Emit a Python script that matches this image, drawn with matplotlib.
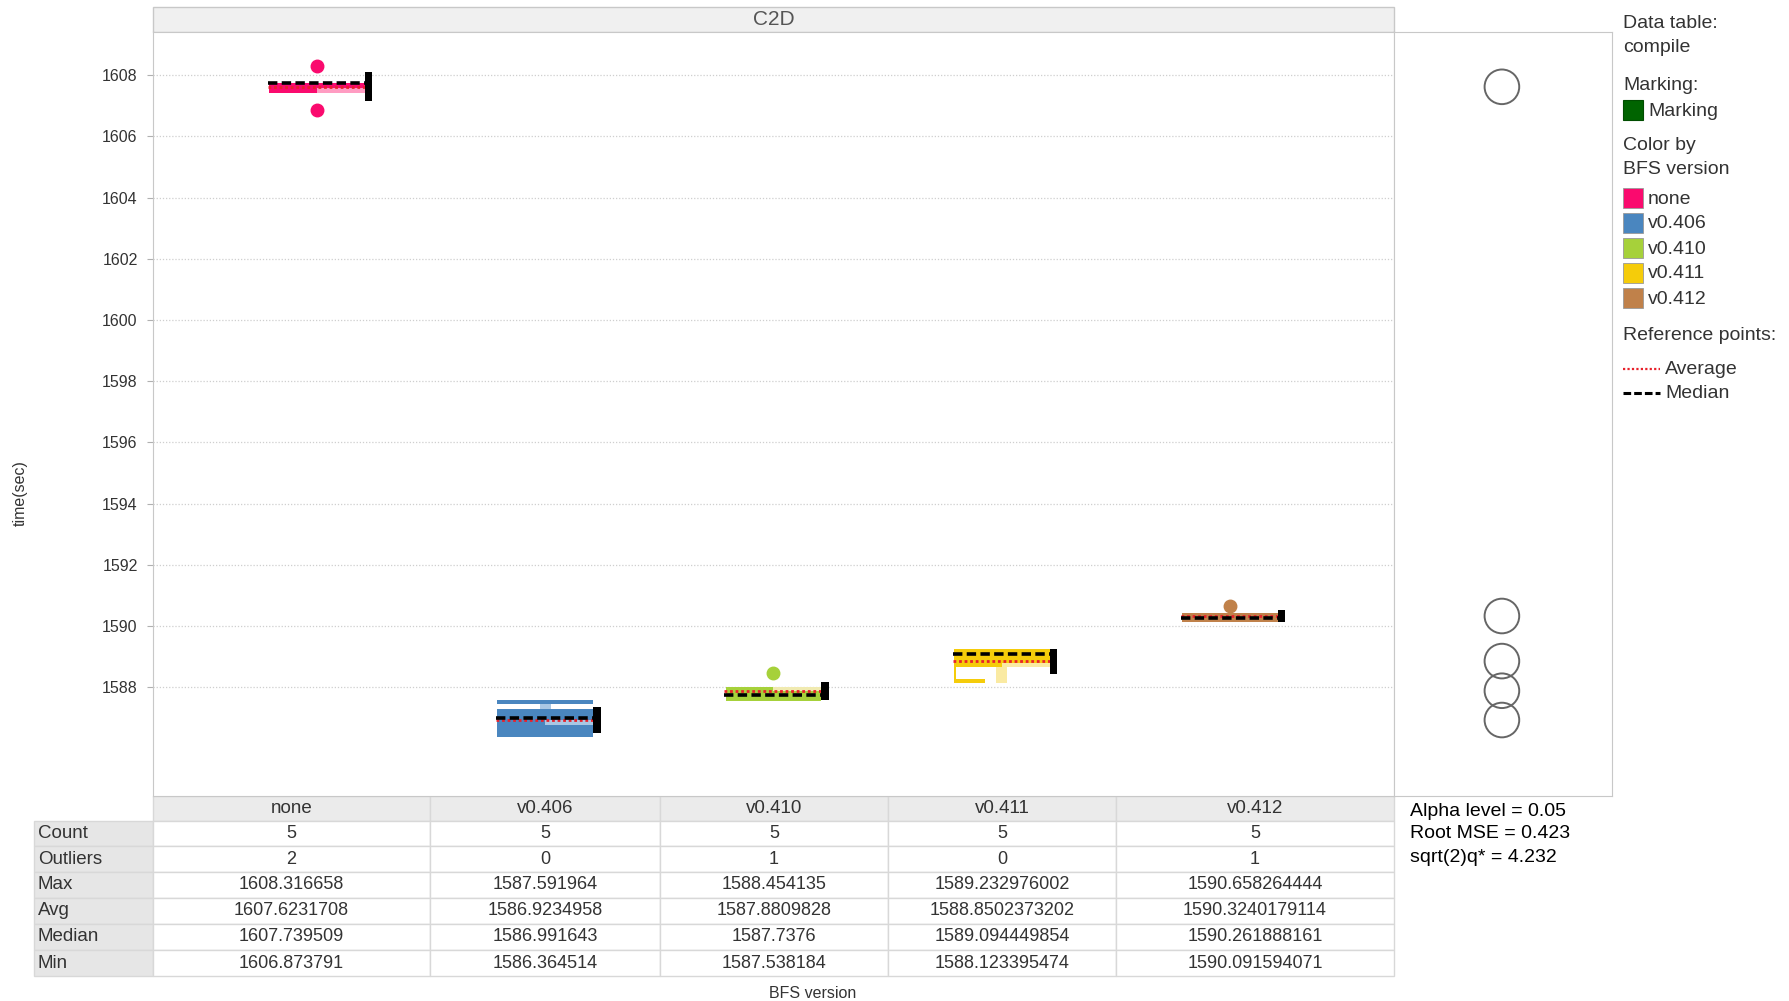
import matplotlib
matplotlib.use("Agg")
import matplotlib.pyplot as plt
from matplotlib.patches import Rectangle, Ellipse
import numpy as np

plt.rcParams['font.family'] = ['Liberation Sans', 'DejaVu Sans']

versions = ['none', 'v0.406', 'v0.410', 'v0.411', 'v0.412']
counts = [5, 5, 5, 5, 5]
outlier_counts = [2, 0, 1, 0, 1]
maxs = [1608.316658, 1587.591964, 1588.454135, 1589.232976002, 1590.658264444]
avgs = [1607.6231708, 1586.9234958, 1587.8809828, 1588.8502373202, 1590.3240179114]
medians = [1607.739509, 1586.991643, 1587.7376, 1589.094449854, 1590.261888161]
mins = [1606.873791, 1586.364514, 1587.538184, 1588.123395474, 1590.091594071]

q1 = [1607.42, 1586.36, 1587.56, 1588.66, 1590.12]
q3 = [1607.75, 1587.28, 1588.00, 1589.26, 1590.41]
light_lo = [1607.43, 1586.76, 1587.87, 1588.66, 1590.12]
light_hi = [1607.60, 1586.91, 1588.00, 1588.78, 1590.12]
whisk_lo = [1607.42, 1586.36, 1587.538184, 1588.123395474, 1590.091594071]
whisk_hi = [1607.75, 1587.591964, 1588.00, 1589.26, 1590.41]
ci_half = [0.47, 0.41, 0.295, 0.41, 0.18]
outliers = [[1608.316658, 1606.873791], [], [1588.454135], [], [1590.658264444]]

alpha_level = 0.05
root_mse = 0.423
sqrt2q = 4.232

yticks = [1588, 1590, 1592, 1594, 1596, 1598, 1600, 1602, 1604, 1606, 1608]
row_names = ['Count', 'Outliers', 'Max', 'Avg', 'Median', 'Min']

colors = ['#fa0a6e', '#4a86bf', '#a6d13a', '#f5cc0a', '#c0814a']
lights = ['#ff9cc2', '#a9c7e4', '#f0eab0', '#faeaa2', '#e2c0a0']

#------------- layout in pixels
W, H = 1790, 1001
fig = plt.figure(figsize=(W / 100, H / 100), dpi=100, facecolor='white')

def rect(x0, y0, x1, y1):
    return [x0 / W, 1 - y1 / H, (x1 - x0) / W, (y1 - y0) / H]

PL, PR, PT, PB = 153, 1394, 32, 796
ax = fig.add_axes(rect(PL, PT, PR, PB))
axc = fig.add_axes(rect(PR, PT, 1612, PB))
ov = fig.add_axes([0, 0, 1, 1], zorder=-1)
ov.set_xlim(0, W)
ov.set_ylim(H, 0)
ov.axis('off')

ylo, yhi = 1584.44, 1609.415
grey = '#c8c8c8'
txt = '#333333'

#------------- box plot
ax.set_xlim(-0.72, 4.72)
ax.set_ylim(ylo, yhi)
for yt in yticks:
    ax.axhline(yt, color='#cfcfcf', lw=0.9, ls=(0, (1, 1.5)), zorder=0)
hw = 0.21
for i in range(len(versions)):
    c, lc = colors[i], lights[i]
    if whisk_hi[i] - q3[i] > 0.05:
        ax.add_patch(Rectangle((i - 0.025, q3[i]), 0.05, whisk_hi[i] - q3[i], color=lc, lw=0, zorder=2))
        ax.add_patch(Rectangle((i - hw, whisk_hi[i] - 0.15), 2 * hw, 0.15, color=c, lw=0, zorder=2))
    if q1[i] - whisk_lo[i] > 0.05:
        ax.add_patch(Rectangle((i - 0.025, whisk_lo[i]), 0.05, q1[i] - whisk_lo[i], color=lc, lw=0, zorder=2))
        ax.add_patch(Rectangle((i - hw, whisk_lo[i]), 0.65 * hw, 0.15, color=c, lw=0, zorder=2))
        ax.add_patch(Rectangle((i - hw, whisk_lo[i]), 0.012, q1[i] - whisk_lo[i], color=c, lw=0, zorder=2))
    ax.add_patch(Rectangle((i - hw, q1[i]), 2 * hw, q3[i] - q1[i], color=c, lw=0, zorder=2))
    ax.add_patch(Rectangle((i, light_lo[i]), hw, light_hi[i] - light_lo[i], color=lc, lw=0, zorder=3))
    ax.plot([i - hw - 0.005, i + hw], [avgs[i], avgs[i]], color='#e8212b', lw=2, ls=(0, (1, 1)), zorder=4)
    ax.plot([i - hw - 0.005, i + hw], [medians[i], medians[i]], color='black', lw=2.6, ls=(0, (2.6, 1.2)), zorder=5)
    ax.add_patch(Rectangle((i + hw, avgs[i] - ci_half[i]), 0.032, 2 * ci_half[i], color='black', lw=0, zorder=6))
    if outliers[i]:
        ax.plot([i] * len(outliers[i]), outliers[i], 'o', ms=9, color=c, mec=c, zorder=6)

ax.set_yticks(yticks)
ax.set_yticklabels([str(t) for t in yticks])
ax.set_xticks([])
ax.tick_params(axis='y', length=4, color='#b0b0b0', labelsize=11.5, labelcolor=txt, pad=7)
for s in ax.spines.values():
    s.set_color(grey)

#------------- comparison circles
axc.set_xlim(0, 1)
axc.set_ylim(ylo, yhi)
axc.set_xticks([])
axc.set_yticks([])
for s in axc.spines.values():
    s.set_color(grey)
px_per_unit = (PB - PT) / (yhi - ylo)
for i in range(len(versions)):
    r = sqrt2q * root_mse / np.sqrt(counts[i]) / np.sqrt(2)
    wdt = 2 * r * px_per_unit / (1612 - PR)
    axc.add_patch(Ellipse((0.495, avgs[i]), wdt, 2 * r, fill=False, ec='#666666', lw=1.4))

#------------- title band
ov.add_patch(Rectangle((PL, 7), PR - PL, PT - 7, fc='#f0f0f0', ec=grey, lw=1))
ov.text((PL + PR) / 2, 19.5, 'C2D', ha='center', va='center', fontsize=15, color='#555555')
ov.text(20, 493, 'time(sec)', rotation=90, ha='center', va='center', fontsize=11.5, color=txt)

#------------- table
col_edges = [153, 430, 660, 888, 1116, 1394]
row_edges = [796, 821, 846, 872, 897.5, 923.5, 950, 976]
cell_ec = '#d8d8d8'
for j in range(len(versions)):
    x0, x1 = col_edges[j], col_edges[j + 1]
    ov.add_patch(Rectangle((x0, row_edges[0]), x1 - x0, row_edges[1] - row_edges[0], fc='#ebebeb', ec=cell_ec, lw=1))
    ov.text((x0 + x1) / 2, (row_edges[0] + row_edges[1]) / 2, versions[j], ha='center', va='center', fontsize=13.5, color=txt)
table_rows = [counts, outlier_counts, maxs, avgs, medians, mins]
for k, name in enumerate(row_names):
    y0, y1 = row_edges[k + 1], row_edges[k + 2]
    ov.add_patch(Rectangle((34, y0), 153 - 34, y1 - y0, fc='#e6e6e6', ec=cell_ec, lw=1))
    ov.text(38, (y0 + y1) / 2, name, ha='left', va='center', fontsize=13.5, color=txt)
    for j in range(len(versions)):
        x0, x1 = col_edges[j], col_edges[j + 1]
        ov.add_patch(Rectangle((x0, y0), x1 - x0, y1 - y0, fc='white', ec=cell_ec, lw=1))
        ov.text((x0 + x1) / 2, (y0 + y1) / 2, str(table_rows[k][j]), ha='center', va='center', fontsize=13, color=txt)
ov.text(813, 993, 'BFS version', ha='center', va='center', fontsize=11.5, color=txt)

ov.text(1410, 811, 'Alpha level = %s' % alpha_level, ha='left', va='center', fontsize=14, color='black')
ov.text(1410, 834, 'Root MSE = %s' % root_mse, ha='left', va='center', fontsize=14, color='black')
ov.text(1410, 857, 'sqrt(2)q* = %s' % sqrt2q, ha='left', va='center', fontsize=14, color='black')

#------------- legend
LX = 1623
fs = 14
ov.text(LX, 23, 'Data table:', va='center', fontsize=fs, color=txt)
ov.text(LX, 48, 'compile', va='center', fontsize=fs, color=txt)
ov.text(LX, 85, 'Marking:', va='center', fontsize=fs, color=txt)
ov.add_patch(Rectangle((LX, 100), 20, 20, fc='#006400', ec='#004d00', lw=0.8))
ov.text(LX + 25, 111, 'Marking', va='center', fontsize=fs, color=txt)
ov.text(LX, 145, 'Color by', va='center', fontsize=fs, color=txt)
ov.text(LX, 170, 'BFS version', va='center', fontsize=fs, color=txt)
for j in range(len(versions)):
    yc = 198 + 25 * j
    ov.add_patch(Rectangle((LX, yc - 10), 20, 20, fc=colors[j], ec='#999999', lw=0.6))
    ov.text(LX + 25, yc + 1, versions[j], va='center', fontsize=fs, color=txt)
ov.text(LX, 335, 'Reference points:', va='center', fontsize=fs, color=txt)
ov.plot([LX, LX + 37], [369, 369], color='#e8212b', lw=1.6, ls=(0, (1, 1)))
ov.text(LX + 42, 370, 'Average', va='center', fontsize=fs, color=txt)
ov.plot([LX, LX + 37], [393, 393], color='black', lw=2.2, ls=(0, (2.5, 1)))
ov.text(LX + 42, 394, 'Median', va='center', fontsize=fs, color=txt)

fig.savefig('out.png', dpi=100, facecolor='white')
